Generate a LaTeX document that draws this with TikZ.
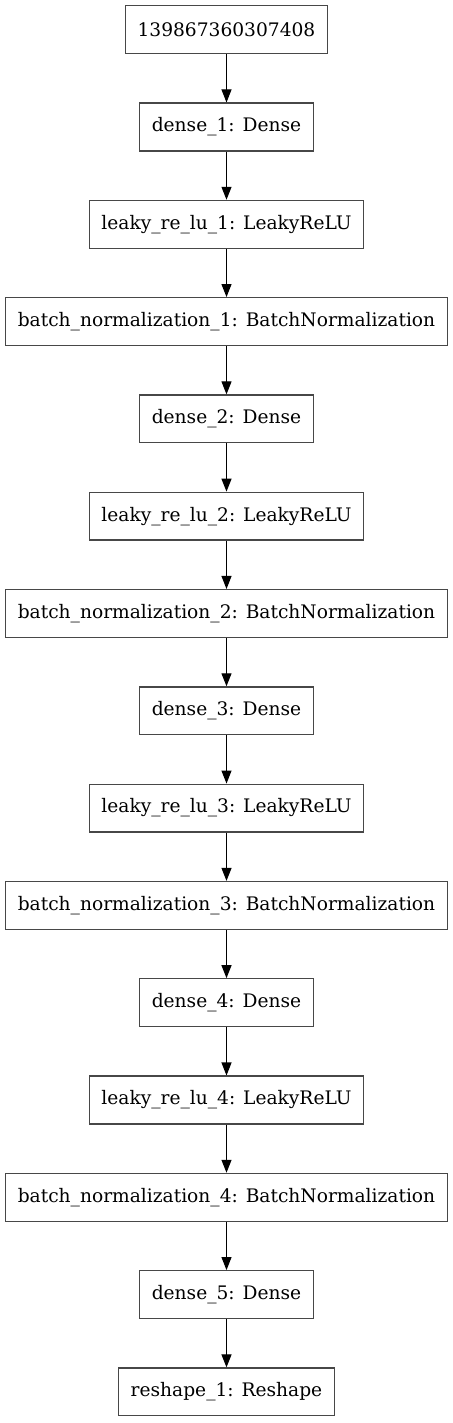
\documentclass[tikz,border=0pt]{standalone}
\usepackage{fontspec}
\setmainfont{DejaVu Serif}
\usetikzlibrary{arrows.meta, positioning}

\tikzset{
    layer/.style={draw=black!72, line width=1.3bp, minimum height=47.8bp,
        inner xsep=12bp, inner ysep=0pt, fill=white,
        font=\fontsize{18.7}{22}\selectfont},
    flow/.style={line width=1.1bp, -{Triangle[length=13bp, width=10bp]}}
}

\begin{document}
\begin{tikzpicture}[x=1bp, y=1bp, node distance=48.2bp]
        \useasboundingbox (0,0) rectangle (453,-1423);

        % The input and the layers, top to bottom
        \node[layer] (input) at (226.5,-29.7) {139867360307408};
        \node[layer, below=of input] (dense1) {dense\_1: Dense};
        \node[layer, below=of dense1] (leaky1) {leaky\_re\_lu\_1: LeakyReLU};
        \node[layer, below=of leaky1] (bn1) {batch\_normalization\_1: BatchNormalization};
        \node[layer, below=of bn1] (dense2) {dense\_2: Dense};
        \node[layer, below=of dense2] (leaky2) {leaky\_re\_lu\_2: LeakyReLU};
        \node[layer, below=of leaky2] (bn2) {batch\_normalization\_2: BatchNormalization};
        \node[layer, below=of bn2] (dense3) {dense\_3: Dense};
        \node[layer, below=of dense3] (leaky3) {leaky\_re\_lu\_3: LeakyReLU};
        \node[layer, below=of leaky3] (bn3) {batch\_normalization\_3: BatchNormalization};
        \node[layer, below=of bn3] (dense4) {dense\_4: Dense};
        \node[layer, below=of dense4] (leaky4) {leaky\_re\_lu\_4: LeakyReLU};
        \node[layer, below=of leaky4] (bn4) {batch\_normalization\_4: BatchNormalization};
        \node[layer, below=of bn4] (dense5) {dense\_5: Dense};
        \node[layer, below=of dense5] (reshape1) {reshape\_1: Reshape};

        % Connections
        \draw[flow] (input) -- (dense1);
        \draw[flow] (dense1) -- (leaky1);
        \draw[flow] (leaky1) -- (bn1);
        \draw[flow] (bn1) -- (dense2);
        \draw[flow] (dense2) -- (leaky2);
        \draw[flow] (leaky2) -- (bn2);
        \draw[flow] (bn2) -- (dense3);
        \draw[flow] (dense3) -- (leaky3);
        \draw[flow] (leaky3) -- (bn3);
        \draw[flow] (bn3) -- (dense4);
        \draw[flow] (dense4) -- (leaky4);
        \draw[flow] (leaky4) -- (bn4);
        \draw[flow] (bn4) -- (dense5);
        \draw[flow] (dense5) -- (reshape1);
    \end{tikzpicture}
\end{document}
